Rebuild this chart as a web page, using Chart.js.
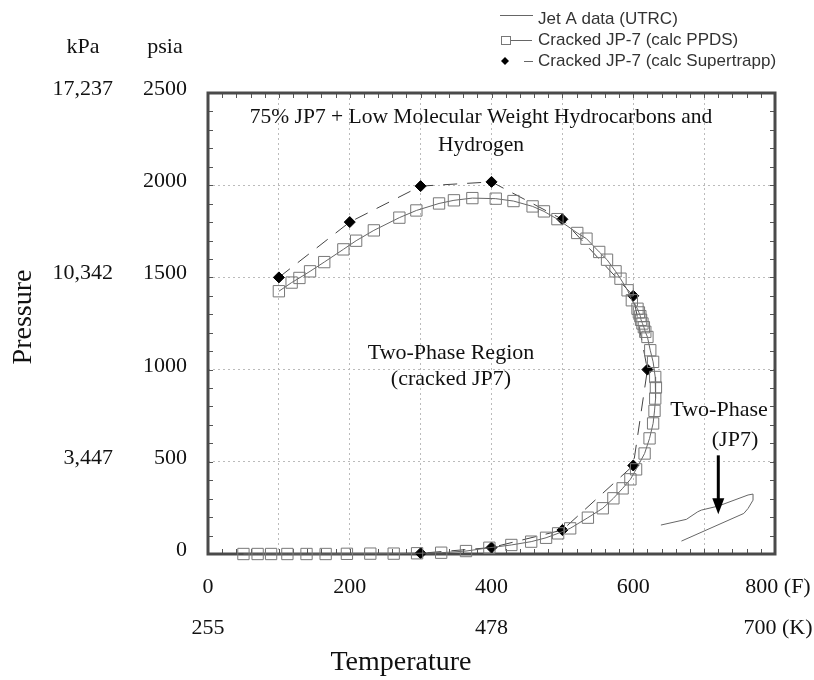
<!DOCTYPE html>
<html>
<head>
<meta charset="utf-8">
<script src="https://cdn.jsdelivr.net/npm/chart.js@4.4.1/dist/chart.umd.min.js"></script>
<style>
body{margin:0;background:#fff}
</style>
</head>
<body>
<canvas id="grafico" width="814" height="680"></canvas>
<script>
// Jet A data (UTRC)
const jetT=[668,756,762,769,769,762,720,696,691,675,639]
const jetP=[70,220,247,292,325,320,260,238,229,188,157]

// Cracked JP-7 (calc PPDS)
const ppdsT=[100,118,129,144,164,191,209,234,270,294,326,347,373,406,431,458,474,493,521,534,552,563,575,582,592,598,
606,608,610,611,613,615,617,620,624,628,631,632,631,630,628,623,616,604,596,585,572,557,536,511,494,477,456,428,397,364,329,295,262,229,196,166,139,112,89,70,50]
const ppdsP=[1425,1472,1497,1533,1583,1652,1699,1755,1824,1863,1901,1918,1930,1927,1914,1885,1858,1816,1741,1710,1638,1596,1533,1493,1430,1376,
1330,1310,1290,1270,1250,1230,1205,1177,1105,1042,960,903,843,776,708,627,545,459,405,356,302,248,197,139,112,88,67,49,34,16,7,4,2,2,1,0,0,0,0,0,0]

// Cracked JP-7 (calc Supertrapp)
const trappT=[100,200,300,400,500,600,620,600,500,400,300]
const trappP=[1500,1800,1995,2018,1815,1400,1000,480,130,35,4]

const xTicks=[0,200,400,600,800]
const xLabelsF=["0","200","400","600","800 (F)"]
const kTicks=[0,400,800]
const kLabels=["255","478","700 (K)"]
const yTicks=[0,500,1000,1500,2000,2500]
const kpaTicks=[500,1500,2500]
const kpaLabels=["3,447","10,342","17,237"]

const legendas=["Jet A data (UTRC)","Cracked JP-7 (calc PPDS)","Cracked JP-7 (calc Supertrapp)"]

function pontos(xs,ys){
return xs.map((x,i)=>({x:x,y:ys[i]}))
}

const serif="'Liberation Serif','Times New Roman',serif"
const sans="'Liberation Sans',Arial,sans-serif"

const extras={
id:"extras",
beforeDatasetsDraw(chart){
const ctx=chart.ctx
const a=chart.chartArea
const xs=chart.scales.x
const ys=chart.scales.y
ctx.save()
ctx.strokeStyle="#555"
ctx.lineWidth=1
ctx.beginPath()
for(let v=0;v<=800;v+=20){
let px=Math.round(xs.getPixelForValue(v))+0.5
ctx.moveTo(px,a.bottom);ctx.lineTo(px,a.bottom-5)
ctx.moveTo(px,a.top);ctx.lineTo(px,a.top+5)
}
for(let v=0;v<=2500;v+=100){
let py=Math.round(ys.getPixelForValue(v))+0.5
ctx.moveTo(a.left,py);ctx.lineTo(a.left+5,py)
ctx.moveTo(a.right,py);ctx.lineTo(a.right-5,py)
}
ctx.stroke()
ctx.strokeStyle="#4a4a4a"
ctx.lineWidth=3
ctx.strokeRect(a.left,a.top,a.right-a.left,a.bottom-a.top)
ctx.restore()
},
afterDraw(chart){
const ctx=chart.ctx
const xs=chart.scales.x
const ys=chart.scales.y
ctx.save()
ctx.fillStyle="#111"
ctx.font="22px "+serif

// eixo y
ctx.textAlign="center"
ctx.textBaseline="alphabetic"
ctx.fillText("kPa",83,53)
ctx.fillText("psia",165,53)
ctx.textAlign="right"
yTicks.forEach(v=>ctx.fillText(String(v),187,ys.getPixelForValue(v)+2))
kpaTicks.forEach((v,i)=>ctx.fillText(kpaLabels[i],113,ys.getPixelForValue(v)+2))

// eixo x
ctx.textAlign="center"
xTicks.forEach((v,i)=>ctx.fillText(xLabelsF[i],xs.getPixelForValue(v)+(i==4?3:0),593))
kTicks.forEach((v,i)=>ctx.fillText(kLabels[i],xs.getPixelForValue(v)+(i==2?3:0),634))

// titulos
ctx.font="28px "+serif
ctx.textBaseline="middle"
ctx.fillText("Temperature",401,663)
ctx.save()
ctx.translate(24,317)
ctx.rotate(-Math.PI/2)
ctx.fillText("Pressure",0,0)
ctx.restore()

// anotacoes
ctx.font="21.5px "+serif
ctx.fillText("75% JP7 + Low Molecular Weight Hydrocarbons and",481,117)
ctx.fillText("Hydrogen",481,145)
ctx.font="22px "+serif
ctx.fillText("Two-Phase Region",451,353)
ctx.fillText("(cracked JP7)",451,379)
ctx.fillText("Two-Phase",719,410)
ctx.fillText("(JP7)",735,440)

// seta
let ax=xs.getPixelForValue(720)
let ay1=ys.getPixelForValue(535)
let ay2=ys.getPixelForValue(215)
ctx.strokeStyle="#000"
ctx.lineWidth=3
ctx.beginPath()
ctx.moveTo(ax,ay1);ctx.lineTo(ax,ay2-14)
ctx.stroke()
ctx.fillStyle="#000"
ctx.beginPath()
ctx.moveTo(ax-6,ay2-16);ctx.lineTo(ax+6,ay2-16);ctx.lineTo(ax,ay2)
ctx.closePath()
ctx.fill()

// legenda
ctx.font="17px "+sans
ctx.textAlign="left"
ctx.fillStyle="#333"
let ly=[19,40,61]
legendas.forEach((t,i)=>ctx.fillText(t,538,ly[i]))
ctx.strokeStyle="#666"
ctx.lineWidth=1
ctx.beginPath()
ctx.moveTo(500,15.5);ctx.lineTo(533,15.5)
ctx.moveTo(511,40.5);ctx.lineTo(532,40.5)
ctx.stroke()
ctx.strokeStyle="#777"
ctx.strokeRect(501.5,36.5,9,8)
ctx.strokeStyle="#666"
ctx.beginPath()
ctx.moveTo(524,61.5);ctx.lineTo(533,61.5)
ctx.stroke()
ctx.fillStyle="#000"
ctx.beginPath()
ctx.moveTo(505,57);ctx.lineTo(509,61);ctx.lineTo(505,65);ctx.lineTo(501,61)
ctx.closePath()
ctx.fill()
ctx.restore()
}
}

new Chart(document.getElementById("grafico"),{
type:"scatter",
data:{
datasets:[
{
label:legendas[0],
data:pontos(jetT,jetP),
showLine:true,
borderColor:"#666",
borderWidth:1,
pointRadius:0,
clip:false
},
{
label:legendas[1],
data:pontos(ppdsT,ppdsP),
showLine:true,
borderColor:"#666",
borderWidth:1,
pointStyle:"rect",
pointRadius:8,
pointBorderColor:"#777",
pointBackgroundColor:"rgba(0,0,0,0)",
pointBorderWidth:1,
clip:false
},
{
label:legendas[2],
data:pontos(trappT,trappP),
showLine:true,
borderColor:"#444",
borderWidth:1,
borderDash:[14,10],
pointStyle:"rectRot",
pointRadius:5.5,
pointBorderColor:"#000",
pointBackgroundColor:"#000",
clip:false
}
]
},
options:{
responsive:false,
animation:false,
layout:{padding:{left:208,right:39,top:93,bottom:126}},
plugins:{legend:{display:false},tooltip:{enabled:false}},
scales:{
x:{
type:"linear",min:0,max:800,
ticks:{display:false,stepSize:100},
grid:{color:"#bbb",lineWidth:1,drawTicks:false},
border:{display:false,dash:[2,3]}
},
y:{
type:"linear",min:0,max:2500,
ticks:{display:false,stepSize:500},
grid:{color:"#bbb",lineWidth:1,drawTicks:false},
border:{display:false,dash:[2,3]}
}
}
},
plugins:[extras]
})
</script>
</body>
</html>
